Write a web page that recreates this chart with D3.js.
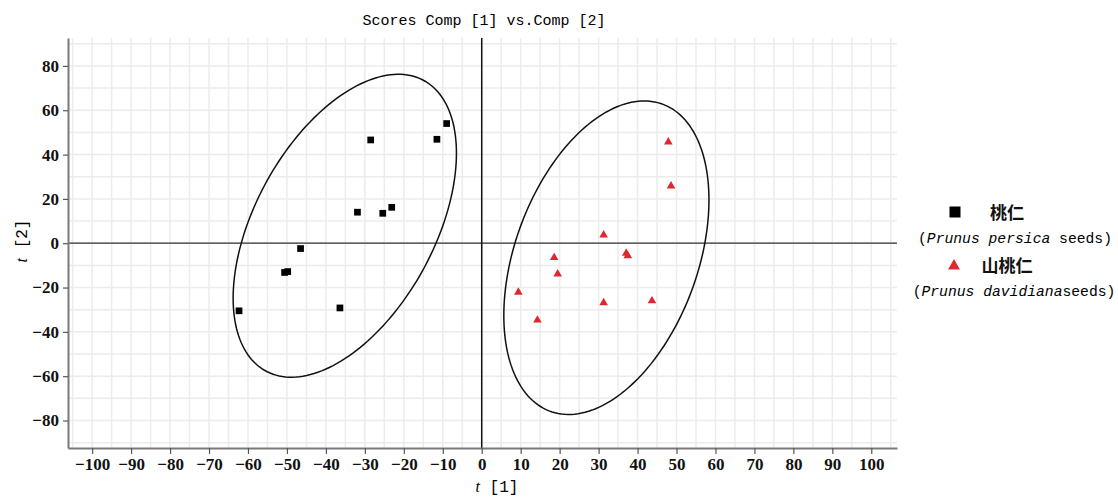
<!DOCTYPE html>
<html>
<head>
<meta charset="utf-8">
<script src="https://cdn.jsdelivr.net/npm/d3@7"></script>
<style>
  body { margin: 0; background: #fff; }
  svg { display: block; }
</style>
</head>
<body>
<div id="chart"></div>
<script>
// Scores t[1] / t[2] for the two seed groups
const persicaT1 = [-9.0, -11.5, -28.5, -31.9, -25.4, -23.1, -46.5, -50.6, -49.8, -62.3, -36.4];
const persicaT2 = [54.0, 46.9, 46.6, 14.0, 13.5, 16.2, -2.4, -13.2, -12.8, -30.5, -29.2];
const davidianaT1 = [47.9, 48.6, 31.3, 18.6, 37.1, 37.5, 19.5, 9.4, 31.3, 43.7, 14.3];
const davidianaT2 = [45.7, 25.8, 3.7, -6.5, -4.5, -5.7, -13.9, -22.1, -26.9, -26.0, -34.7];

// Confidence ellipses: centre and two conjugate half-axis vectors (data units)
const ellipseCentres = [[-35.15, 7.89], [32.0, -6.54]];
const ellipseAxisU = [[28.66, 32.70], [26.33, 26.07]];
const ellipseAxisV = [[0, -60.0], [0, -65.76]];

const xTicks = d3.range(-100, 101, 10);
const yTicks = [-80, -60, -40, -20, 0, 20, 40, 60, 80];

const W = 1118, H = 498;
const margin = { top: 38, right: 221, bottom: 50, left: 68 };

const svg = d3.select('#chart')
    .append('svg')
    .attr('width', W)
    .attr('height', H);

const x = d3.scaleLinear()
    .domain([-106.2, 106.6])
    .range([margin.left, W - margin.right]);

const y = d3.scaleLinear()
    .domain([-92.4, 92.6])
    .range([H - margin.bottom, margin.top]);

const [x0, x1] = x.range();
const [y0, y1] = y.range();

// grid
svg.append('g')
    .selectAll('line')
    .data(d3.range(-105, 106, 5))
    .enter()
    .append('line')
    .attr('x1', d => x(d)).attr('x2', d => x(d))
    .attr('y1', y0).attr('y2', y1)
    .attr('stroke', '#ececec')
    .attr('stroke-width', 1.5);

svg.append('g')
    .selectAll('line')
    .data(d3.range(-90, 91, 10))
    .enter()
    .append('line')
    .attr('y1', d => y(d)).attr('y2', d => y(d))
    .attr('x1', x0).attr('x2', x1)
    .attr('stroke', '#ececec')
    .attr('stroke-width', 1.5);

// zero lines
svg.append('line')
    .attr('x1', x0).attr('x2', x1)
    .attr('y1', y(0)).attr('y2', y(0))
    .attr('stroke', '#333')
    .attr('stroke-width', 1.2);

svg.append('line')
    .attr('x1', x(0)).attr('x2', x(0))
    .attr('y1', y0).attr('y2', y1)
    .attr('stroke', '#111')
    .attr('stroke-width', 1.5);

// axes
const tickFont = '"Liberation Serif", "Times New Roman", serif';

const xAxis = svg.append('g')
    .attr('transform', `translate(0, ${y0})`)
    .call(d3.axisBottom(x).tickValues(xTicks).tickSize(6).tickSizeOuter(0).tickPadding(4));

const yAxis = svg.append('g')
    .attr('transform', `translate(${x0}, 0)`)
    .call(d3.axisLeft(y).tickValues(yTicks).tickSize(5).tickSizeOuter(0).tickPadding(4));

[xAxis, yAxis].forEach(g => {
    g.select('.domain').attr('stroke', '#7a7a7a').attr('stroke-width', 2);
    g.selectAll('.tick line').attr('stroke', '#555').attr('stroke-width', 1.2);
    g.selectAll('.tick text')
        .attr('fill', '#111')
        .style('font-family', tickFont)
        .style('font-weight', 'bold')
        .style('font-size', '17px');
});

// ellipses
const line = d3.line().x(d => x(d[0])).y(d => y(d[1]));
ellipseCentres.forEach((c, i) => {
    const u = ellipseAxisU[i], v = ellipseAxisV[i];
    const pts = d3.range(0, 361, 2).map(a => {
        const t = a * Math.PI / 180;
        return [c[0] + u[0] * Math.cos(t) + v[0] * Math.sin(t),
                c[1] + u[1] * Math.cos(t) + v[1] * Math.sin(t)];
    });
    svg.append('path')
        .attr('d', line(pts))
        .attr('fill', 'none')
        .attr('stroke', '#111')
        .attr('stroke-width', 1.5);
});

// points
const red = '#e0262e';
svg.append('g')
    .selectAll('path')
    .data(d3.zip(persicaT1, persicaT2))
    .enter()
    .append('path')
    .attr('transform', d => `translate(${x(d[0])}, ${y(d[1])})`)
    .attr('d', d3.symbol(d3.symbolSquare, 45))
    .attr('fill', '#000');

svg.append('g')
    .selectAll('path')
    .data(d3.zip(davidianaT1, davidianaT2))
    .enter()
    .append('path')
    .attr('transform', d => `translate(${x(d[0])}, ${y(d[1])})`)
    .attr('d', d3.symbol(d3.symbolTriangle, 32))
    .attr('fill', red);

// title
const monoFont = '"Liberation Mono", "Courier New", monospace';
svg.append('text')
    .attr('x', 484)
    .attr('y', 25)
    .attr('text-anchor', 'middle')
    .style('font-family', monoFont)
    .style('font-size', '15px')
    .attr('fill', '#000')
    .text('Scores Comp [1] vs.Comp [2]');

// axis titles
const xt = svg.append('text')
    .attr('x', 497)
    .attr('y', 492)
    .attr('text-anchor', 'middle')
    .style('font-family', monoFont)
    .style('font-size', '16px')
    .attr('fill', '#000');
xt.append('tspan').style('font-style', 'italic').style('font-family', tickFont).text('t');
xt.append('tspan').text(' [1]');

const yt = svg.append('text')
    .attr('transform', 'translate(27, 241) rotate(-90)')
    .attr('text-anchor', 'middle')
    .style('font-family', monoFont)
    .style('font-size', '16px')
    .attr('fill', '#000');
yt.append('tspan').style('font-style', 'italic').style('font-family', tickFont).text('t');
yt.append('tspan').text(' [2]');

// legend
const legend = svg.append('g');

legend.append('path')
    .attr('transform', 'translate(955, 212)')
    .attr('d', d3.symbol(d3.symbolSquare, 121))
    .attr('fill', '#000');

legend.append('text')
    .attr('x', 1007).attr('y', 219)
    .attr('text-anchor', 'middle')
    .style('font-family', '"Noto Sans CJK SC", sans-serif')
    .style('font-weight', 'bold')
    .style('font-size', '17px')
    .attr('fill', '#111')
    .text('桃仁');

const l1 = legend.append('text')
    .attr('x', 1015).attr('y', 243)
    .attr('text-anchor', 'middle')
    .style('font-family', monoFont)
    .style('font-size', '14.7px')
    .attr('fill', '#000');
l1.append('tspan').text('(');
l1.append('tspan').style('font-style', 'italic').text('Prunus persica');
l1.append('tspan').text(' seeds)');

legend.append('path')
    .attr('transform', 'translate(954, 266)')
    .attr('d', d3.symbol(d3.symbolTriangle, 62))
    .attr('fill', red);

legend.append('text')
    .attr('x', 1007).attr('y', 272)
    .attr('text-anchor', 'middle')
    .style('font-family', '"Noto Sans CJK SC", sans-serif')
    .style('font-weight', 'bold')
    .style('font-size', '17px')
    .attr('fill', '#111')
    .text('山桃仁');

const l2 = legend.append('text')
    .attr('x', 1014).attr('y', 296)
    .attr('text-anchor', 'middle')
    .style('font-family', monoFont)
    .style('font-size', '14.7px')
    .attr('fill', '#000');
l2.append('tspan').text('(');
l2.append('tspan').style('font-style', 'italic').text('Prunus davidiana');
l2.append('tspan').text('seeds)');
</script>
</body>
</html>
